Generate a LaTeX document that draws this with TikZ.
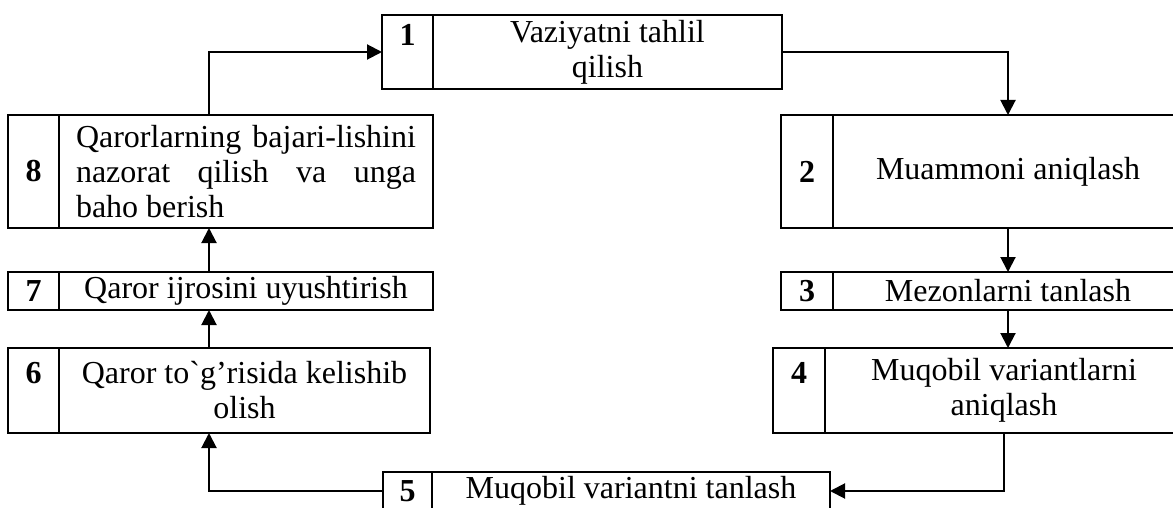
\documentclass[tikz,border=0pt]{standalone}
\usepackage{fontspec}
\setmainfont{Liberation Serif}
\usetikzlibrary{positioning,arrows.meta}
\begin{document}
\begin{tikzpicture}[x=0.5pt, y=-0.5pt,
        katak/.style={draw, line width=1pt, outer sep=0pt, inner sep=1pt, anchor=north west, align=center, font=\fontsize{16}{17.5}\selectfont},
        raqam/.style={katak, minimum width=25.5pt, font=\fontsize{16}{17.5}\selectfont\bfseries},
        matn/.style={katak, anchor=west},
        strelka/.style={-{Triangle[length=7.5pt,width=7.5pt]}, line width=1pt}]
    \useasboundingbox (0,0) rectangle (1173,508);
    \node[raqam, minimum height=37pt] (n1) at (382,15) {1\\\mbox{}};
    \node[matn, minimum height=37pt, minimum width=174.5pt, right=0pt of n1] (t1) {Vaziyatni tahlil\\qilish};
    \node[raqam, minimum height=56.5pt, minimum width=26pt] (n2) at (781,115) {2};
    \node[matn, minimum height=56.5pt, minimum width=175pt, right=0pt of n2] (t2) {Muammoni aniqlash};
    \node[raqam, minimum height=19pt, minimum width=26pt] (n3) at (781,272) {3};
    \node[matn, minimum height=19pt, minimum width=175pt, right=0pt of n3] (t3) {Mezonlarni tanlash};
    \node[raqam, minimum height=42.5pt, minimum width=26pt] (n4) at (773,348) {4\\\mbox{}};
    \node[matn, minimum height=42.5pt, minimum width=179pt, right=0pt of n4] (t4) {Muqobil variantlarni\\aniqlash};
    \node[raqam, minimum height=19pt, minimum width=24.5pt] (n5) at (383,472) {5};
    \node[matn, minimum height=19pt, minimum width=199pt, right=0pt of n5] (t5) {Muqobil variantni tanlash};
    \node[raqam, minimum height=42.5pt] (n6) at (8,348) {6\\\mbox{}};
    \node[matn, minimum height=42.5pt, minimum width=185.5pt, right=0pt of n6] (t6) {Qaror to\textasciigrave g’risida kelishib\\olish};
    \node[raqam, minimum height=19pt] (n7) at (8,272) {7};
    \node[matn, minimum height=19pt, minimum width=187pt, right=0pt of n7] (t7) {Qaror ijrosini uyushtirish};
    \node[raqam, minimum height=56.5pt] (n8) at (8,115) {8};
    \node[matn, minimum height=56.5pt, minimum width=187pt, right=0pt of n8] (t8) {\makebox[170pt][s]{Qarorlarning bajari-lishini}\\\makebox[170pt][s]{nazorat qilish va unga}\\\makebox[170pt][l]{baho berish}};
    \coordinate (chap) at (209,0);
    \draw[strelka] (t1.east) -| (t2.north);
    \draw[strelka] (t2.south) -- (t3.north);
    \draw[strelka] (t3.south) -- (t3.south |- t4.north);
    \draw[strelka] (t4.south) |- (t5.east);
    \draw[strelka] (n5.west) -| (t6.south -| chap);
    \draw[strelka] (t6.north -| chap) -- (t7.south -| chap);
    \draw[strelka] (t7.north -| chap) -- (t8.south -| chap);
    \draw[strelka] (t8.north -| chap) |- (n1.west);
\end{tikzpicture}
\end{document}
